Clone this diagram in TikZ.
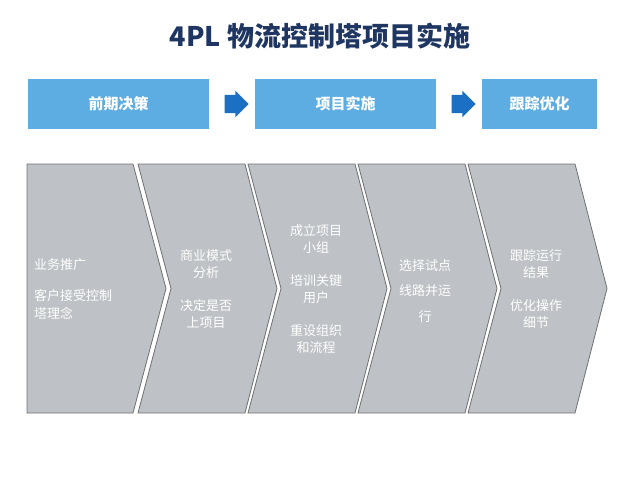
\documentclass[tikz,border=0pt]{standalone}
\usepackage{fontspec}
\setmainfont{Noto Sans CJK SC}
\usetikzlibrary{shapes.arrows,calc}

\definecolor{titleblue}{RGB}{31,54,98}
\definecolor{phaseblue}{RGB}{94,173,226}
\definecolor{arrowblue}{RGB}{28,112,196}
\definecolor{chevgray}{RGB}{190,193,197}
\definecolor{chevedge}{RGB}{112,112,112}

\begin{document}
\begin{tikzpicture}[x=1pt, y=-1pt,
    phase/.style={fill=phaseblue, text=white, minimum height=50pt, inner sep=0pt,
      font=\fontsize{15}{18}\selectfont\bfseries},
    blockarrow/.style={single arrow, fill=arrowblue, inner sep=0pt,
      minimum height=24pt, single arrow head extend=4pt},
    chevron/.style={fill=chevgray, draw=chevedge, line width=0.8pt},
    chevtext/.style={text=white, inner sep=0pt, align=center,
      font=\fontsize{13}{17.5}\selectfont}]
    \useasboundingbox (0, 0) rectangle (640, 480);
    \node[text=titleblue, font=\fontsize{27}{30}\selectfont\bfseries] (title) at (320, 36) {4PL 物流控制塔项目实施};

    \node[phase, minimum width=181pt] (decide) at (118.5, 104) {前期决策};
    \node[phase, minimum width=181pt] (impl) at (345.5, 104) {项目实施};
    \node[phase, minimum width=115pt] (follow) at (539.5, 104) {跟踪优化};
    \node[blockarrow] (go1) at ($(decide.east)!0.5!(impl.west)$) {\rule{0pt}{18pt}};
    \node[blockarrow] (go2) at ($(impl.east)!0.5!(follow.west)$) {\rule{0pt}{18pt}};

    \draw[chevron] (27, 164) -- (133, 164) -- (166, 288.5) -- (133, 413) -- (27, 413) -- cycle;
    \draw[chevron] (138, 164) -- (245, 164) -- (277, 288.5) -- (245, 413) -- (138, 413) -- (171, 288.5) -- cycle;
    \draw[chevron] (248, 164) -- (355, 164) -- (387, 288.5) -- (355, 413) -- (248, 413) -- (281, 288.5) -- cycle;
    \draw[chevron] (358, 164) -- (465, 164) -- (497, 288.5) -- (465, 413) -- (358, 413) -- (391, 288.5) -- cycle;
    \draw[chevron] (468, 164) -- (575, 164) -- (607, 288.5) -- (575, 413) -- (468, 413) -- (501, 288.5) -- cycle;

    \node[chevtext, align=left, anchor=west] (promo) at (34, 289) {业务推广\\[14pt]客户接受控制\\塔理念};
    \node[chevtext] (model) at (206, 289) {商业模式\\分析\\[15pt]决定是否\\上项目};
    \node[chevtext] (team) at (316, 289) {成立项目\\小组\\[15pt]培训关键\\用户\\[15pt]重设组织\\和流程};
    \node[chevtext] (pilot) at (425, 291) {选择试点\\[8pt]线路并运\\[8pt]行};
    \node[chevtext] (track) at (536, 289) {跟踪运行\\结果\\[15pt]优化操作\\细节};
  \end{tikzpicture}
\end{document}
